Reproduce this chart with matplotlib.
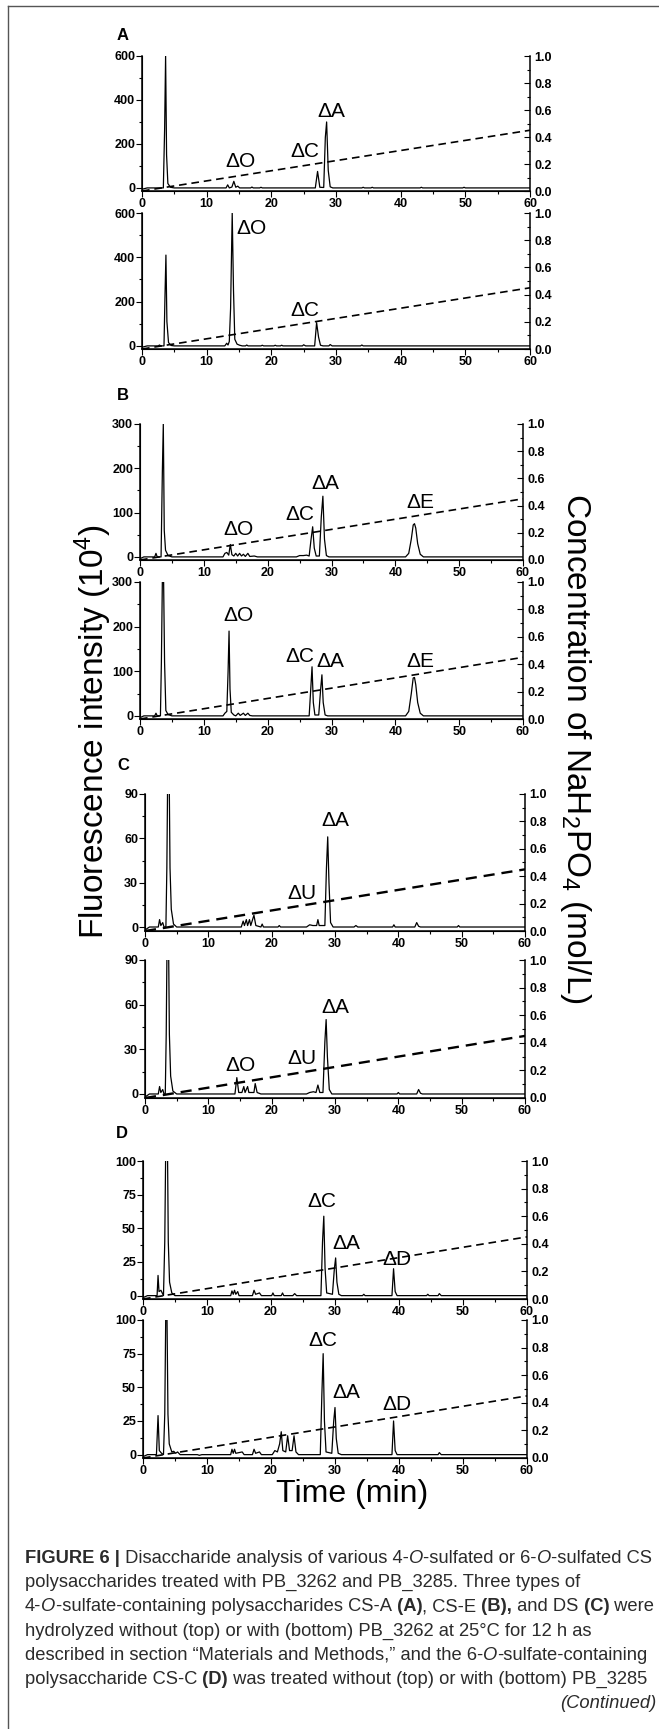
import matplotlib
matplotlib.use("Agg")
import matplotlib.pyplot as plt
import numpy as np
from matplotlib.ticker import MultipleLocator, FormatStrFormatter
from matplotlib.lines import Line2D

plt.rcParams["font.family"] = ["Liberation Sans", "DejaVu Sans"]
plt.rcParams["font.weight"] = "bold"
plt.rcParams["mathtext.default"] = "regular"
plt.rcParams["lines.scale_dashes"] = False

# ── Chromatogram traces: (time min, fluorescence) vertices ──
a_top = [(0, -6), (0.8, 0), (3.3, 0), (3.5, 270), (3.65, 600), (3.8, 150), (4.0, 20), (4.4, 3), (5, 0),
         (13.0, 0), (13.25, 14), (13.5, 0), (13.9, 4), (14.2, 30), (14.5, 3), (14.8, 8), (15.1, 0),
         (16.8, 0), (17.0, 4), (17.2, 0), (18.2, 0), (18.4, 3), (18.6, 0),
         (26.8, 0), (27.15, 75), (27.5, 3), (28.1, 2), (28.35, 230), (28.55, 300), (28.8, 80), (29.1, 5), (29.5, 0),
         (34.0, 0), (34.2, 3), (34.4, 0), (35.4, 0), (35.6, 3), (35.8, 0),
         (43.0, 0), (43.2, 3), (43.4, 0), (49.6, 0), (49.8, 3), (50.0, 0), (60, 0)]
a_bot = [(0, -6), (0.8, 0), (2.5, 0), (2.7, 4), (2.9, 0), (3.4, 0), (3.55, 220), (3.7, 410), (3.85, 110),
         (4.1, 15), (4.5, 2), (5, 0),
         (12.8, 0), (13.1, 12), (13.3, 4), (13.5, 20), (13.7, 170), (13.95, 600), (14.15, 250), (14.35, 30),
         (14.7, 8), (15.1, 3), (15.5, 0),
         (16.0, 0), (16.2, 4), (16.4, 0), (18.4, 0), (18.6, 3), (18.8, 0), (20.4, 0), (20.6, 3), (20.8, 0),
         (21.4, 0), (21.6, 3), (21.8, 0),
         (24.8, 0), (25.0, 5), (25.3, 0), (26.7, 0), (27.0, 105), (27.3, 40), (27.6, 3), (28.0, 0),
         (28.9, 0), (29.1, 6), (29.4, 0), (33.8, 0), (34.0, 4), (34.2, 0), (60, 0)]
b_top = [(0, -4), (0.6, 0), (2.3, 0), (2.5, 8), (2.7, 0), (3.3, 0), (3.5, 190), (3.65, 300), (3.8, 60),
         (4.0, 15), (4.4, 3), (5, 0),
         (13.0, 0), (13.3, 8), (13.6, 10), (13.9, 4), (14.15, 28), (14.4, 5), (14.7, 2), (15.0, 8), (15.3, 2),
         (15.6, 8), (15.9, 2), (16.2, 6), (16.5, 1), (16.9, 8), (17.2, 1), (17.9, 2), (18.4, 0),
         (24.5, 0), (25.0, 3), (25.6, 3), (26.1, 4), (26.5, 2), (26.8, 40), (27.05, 68), (27.3, 20), (27.6, 2),
         (28.1, 2), (28.4, 90), (28.65, 137), (28.9, 40), (29.2, 3), (29.6, 0),
         (41.6, 0), (42.1, 8), (42.5, 40), (42.8, 72), (43.0, 75), (43.2, 65), (43.5, 30), (43.9, 6),
         (44.4, 0), (60, 0)]
b_bot = [(0, -4), (0.6, 0), (2.3, 0), (2.5, 6), (2.7, 0), (3.2, 0), (3.35, 120), (3.6, 420), (3.85, 120),
         (4.05, 12), (4.4, 3), (5, 0),
         (13.0, 0), (13.3, 6), (13.6, 10), (13.8, 100), (13.95, 190), (14.1, 60), (14.3, 8), (14.7, 2),
         (15.0, 0), (15.4, 6), (15.7, 1), (16.2, 6), (16.5, 1), (16.9, 6), (17.2, 1), (17.6, 0),
         (26.5, 0), (26.75, 60), (26.95, 110), (27.15, 30), (27.4, 2), (28.0, 2), (28.3, 60), (28.5, 92),
         (28.7, 30), (29.0, 2), (29.4, 0),
         (41.6, 0), (42.1, 10), (42.5, 50), (42.8, 85), (43.0, 86), (43.2, 70), (43.5, 30), (43.9, 6),
         (44.4, 0), (60, 0)]
c_top = [(0, -2), (0.7, 0), (2.1, 0), (2.3, 5), (2.5, 1), (2.8, 3), (3.0, 0), (3.3, 0), (3.45, 40),
         (3.7, 160), (3.95, 40), (4.15, 12), (4.5, 2), (5.0, 0),
         (15.2, 0), (15.5, 4), (15.7, 1), (16.0, 5), (16.2, 1), (16.5, 5), (16.7, 1), (17.2, 8), (17.5, 1),
         (18.3, 0), (18.5, 2), (18.7, 0), (21.0, 0), (21.2, 1), (21.4, 0),
         (25.5, 0), (26.0, 1.5), (26.5, 1), (27.1, 1), (27.3, 5), (27.5, 1), (28.4, 1), (28.65, 40),
         (28.85, 61), (29.05, 30), (29.3, 3), (29.7, 0),
         (33.0, 0), (33.3, 1), (33.6, 0), (39.1, 0), (39.3, 1.5), (39.5, 0), (42.6, 0), (42.9, 3),
         (43.2, 0.5), (43.5, 0), (49.3, 0), (49.5, 1), (49.7, 0), (60, 0)]
c_bot = [(0, -2), (0.7, 0), (2.1, 0), (2.3, 5), (2.5, 1), (2.8, 3), (3.0, 0), (3.2, 0), (3.35, 40),
         (3.6, 160), (3.85, 40), (4.05, 12), (4.4, 2), (5.0, 0),
         (14.2, 0), (14.5, 11), (14.8, 1), (15.3, 1), (15.6, 5), (15.8, 1), (16.2, 5), (16.4, 1), (17.2, 1),
         (17.4, 7), (17.7, 1), (18.3, 0),
         (25.5, 0), (26.0, 1), (26.6, 1.5), (27.0, 1), (27.3, 6), (27.6, 1), (28.1, 1), (28.4, 35),
         (28.6, 50), (28.8, 25), (29.1, 3), (29.5, 0),
         (39.8, 0), (40.0, 1), (40.2, 0), (42.9, 0), (43.2, 3), (43.5, 0.5), (43.8, 0), (60, 0)]
d_top = [(0, -1.5), (0.7, 0), (2.2, 0), (2.35, 15), (2.5, 3), (2.8, 4), (3.0, 2), (3.2, 0), (3.4, 40),
         (3.7, 180), (3.95, 40), (4.15, 10), (4.5, 2), (5, 0),
         (13.7, 0), (13.9, 3.5), (14.1, 1), (14.3, 4), (14.5, 1), (14.8, 3), (15.0, 0), (17.1, 0),
         (17.35, 4), (17.6, 1), (18.2, 2), (18.5, 0),
         (20.1, 0), (20.3, 2), (20.5, 0), (21.6, 0), (21.8, 2), (22.0, 0), (23.4, 0), (23.7, 1.5), (24.0, 0),
         (27.8, 0), (28.05, 40), (28.25, 59), (28.45, 20), (28.7, 2), (29.6, 1), (29.9, 20), (30.1, 28),
         (30.3, 10), (30.6, 1), (31.0, 0),
         (34.3, 0), (34.5, 1), (34.7, 0), (38.9, 0), (39.15, 20), (39.4, 3), (39.7, 0),
         (44.3, 0), (44.5, 1), (44.7, 0), (46.1, 0), (46.3, 1.5), (46.6, 0), (60, 0)]
d_bot = [(0, -1.5), (0.7, 0), (2.1, 0), (2.35, 29), (2.55, 3), (2.9, 1), (3.2, 0), (3.4, 30),
         (3.65, 150), (3.9, 30), (4.1, 8), (4.5, 2), (4.8, 2.5), (5.1, 1), (5.4, 2), (5.8, 0),
         (8.5, 0), (8.8, -0.5), (9.2, 0),
         (13.7, 0), (13.9, 4), (14.1, 1), (14.3, 4), (14.5, 1), (15.5, 2), (15.8, 0), (17.1, 0),
         (17.35, 4), (17.6, 1), (18.2, 2), (18.5, 0),
         (20.2, 0), (20.6, 3), (21.0, 2), (21.35, 8), (21.6, 17), (21.85, 3), (22.3, 2), (22.6, 14),
         (22.9, 3), (23.3, 3), (23.6, 14), (23.9, 2), (24.3, 0),
         (27.7, 0), (27.95, 45), (28.15, 75), (28.35, 25), (28.6, 2), (29.5, 1), (29.8, 25), (30.0, 35),
         (30.2, 12), (30.5, 1), (31.0, 0),
         (38.9, 0), (39.15, 25), (39.4, 3), (39.7, 0), (46.1, 0), (46.3, 1.5), (46.6, 0), (60, 0)]

# NaH2PO4 gradient (right axis)
grad_t = [0, 60]
grad_c = [0, 0.45]

# Peak labels: (text, time, intensity)
a_top_labels = [("ΔO", 15.2, 119), ("ΔC", 25.2, 165), ("ΔA", 29.2, 348)]
a_bot_labels = [("ΔO", 17.0, 532), ("ΔC", 25.2, 159)]
b_top_labels = [("ΔO", 15.4, 61), ("ΔC", 25.0, 95), ("ΔA", 29.1, 165), ("ΔE", 43.9, 122)]
b_bot_labels = [("ΔO", 15.4, 224), ("ΔC", 25.0, 134), ("ΔA", 29.8, 121), ("ΔE", 43.9, 121)]
c_top_labels = [("ΔA", 30.0, 72), ("ΔU", 24.8, 23)]
c_bot_labels = [("ΔO", 15.0, 19), ("ΔU", 24.8, 23.5), ("ΔA", 30.0, 58)]
d_top_labels = [("ΔC", 28.0, 70), ("ΔA", 31.8, 39), ("ΔD", 39.7, 27)]
d_bot_labels = [("ΔC", 28.1, 85), ("ΔA", 31.8, 46), ("ΔD", 39.7, 37)]

panel_letters = ["A", "B", "C", "D"]

# ── Figure ──
W, H = 659, 1729
fig = plt.figure(figsize=(W / 100, H / 100), dpi=100)


def px_rect(l, t, r, b):
    return [l / W, 1 - b / H, (r - l) / W, (b - t) / H]


def draw(trace, labels, rect, ylim, major, minor, dash_lw=1.2, dash=(5.5, 3.5)):
    ax = fig.add_axes(px_rect(*rect))
    t, y = np.array(trace).T
    ax.plot(t, y, color="k", lw=0.9)
    ax.set_xlim(0, 60)
    ax.set_ylim(*ylim)
    ax.xaxis.set_major_locator(MultipleLocator(10))
    ax.xaxis.set_minor_locator(MultipleLocator(5))
    ax.yaxis.set_major_locator(MultipleLocator(major))
    ax.yaxis.set_minor_locator(MultipleLocator(minor))
    ax.tick_params(which="both", direction="out", width=0.8, labelsize=9, pad=1)
    ax.tick_params(which="major", length=4)
    ax.tick_params(which="minor", length=2.2)
    for name in ["left", "bottom"]:
        ax.spines[name].set_linewidth(1.1)
    ax.spines["top"].set_visible(False)
    ax.spines["right"].set_visible(False)
    for s, tx, ty in labels:
        ax.text(tx, ty, s, fontsize=15, fontweight="normal", ha="center", va="center")

    ax2 = ax.twinx()
    ax2.plot(grad_t, grad_c, color="k", lw=dash_lw, dashes=dash)
    ax2.set_ylim(0, 1)
    ax2.yaxis.set_major_locator(MultipleLocator(0.2))
    ax2.yaxis.set_minor_locator(MultipleLocator(0.1))
    ax2.yaxis.set_major_formatter(FormatStrFormatter("%.1f"))
    ax2.tick_params(which="both", direction="in", width=0.8, labelsize=9, pad=3)
    ax2.tick_params(which="major", length=4)
    ax2.tick_params(which="minor", length=2.2)
    ax2.spines["right"].set_linewidth(1.1)
    ax2.spines["top"].set_visible(False)
    return ax


draw(a_top, a_top_labels, (142, 56, 530, 191), (-14, 600), 200, 100)
draw(a_bot, a_bot_labels, (142, 213, 530, 349), (-14, 600), 200, 100)
draw(b_top, b_top_labels, (140, 424, 523, 560), (-7, 300), 100, 50)
draw(b_bot, b_bot_labels, (140, 582, 523, 719), (-7, 300), 100, 50)
draw(c_top, c_top_labels, (145, 794, 525, 931), (-2.7, 90), 30, 15, dash_lw=1.7, dash=(8, 5))
draw(c_bot, c_bot_labels, (145, 960, 525, 1098), (-2.7, 90), 30, 15, dash_lw=1.7, dash=(8, 5))
draw(d_top, d_top_labels, (143, 1161, 527, 1299), (-2.5, 100), 25, 12.5)
draw(d_bot, d_bot_labels, (143, 1320, 527, 1458), (-2.5, 100), 25, 12.5)

# Panel letters
for letter, (lx, ly) in zip(panel_letters, [(123, 35), (123, 395), (123, 766), (122, 1133)]):
    fig.text(lx / W, 1 - ly / H, letter, fontsize=12, fontweight="bold", ha="center", va="center")

# Shared axis titles
fig.text(93 / W, 1 - 732 / H, r"Fluorescence intensity (10$^4$)", fontsize=24,
         fontweight="normal", rotation=90, ha="center", va="center")
fig.text(576 / W, 1 - 748 / H, r"Concentration of NaH$_2$PO$_4$ (mol/L)", fontsize=24,
         fontweight="normal", rotation=270, ha="center", va="center")
fig.text(352 / W, 1 - 1494 / H, "Time (min)", fontsize=23, fontweight="normal",
         ha="center", va="center")

# Frame
fig.add_artist(Line2D([8 / W, 8 / W], [0, 1 - 6 / H], color="#555555", lw=1.0))
fig.add_artist(Line2D([8 / W, 1], [1 - 6 / H, 1 - 6 / H], color="#555555", lw=1.0))

# Caption
renderer = fig.canvas.get_renderer()


def rich_line(x_px, y_px, parts, size=13.2):
    x = x_px
    for s, weight, style in parts:
        t = fig.text(x / W, 1 - y_px / H, s, fontsize=size, fontweight=weight,
                     fontstyle=style, color="#2b2b2b", ha="left", va="baseline")
        x += t.get_window_extent(renderer=renderer).width


N, B, I = ("normal", "normal"), ("bold", "normal"), ("normal", "italic")
caption = [
    [("FIGURE 6 |", *B), (" Disaccharide analysis of various 4-", *N), ("O", *I),
     ("-sulfated or 6-", *N), ("O", *I), ("-sulfated CS", *N)],
    [("polysaccharides treated with PB_3262 and PB_3285. Three types of", *N)],
    [("4-", *N), ("O", *I), ("-sulfate-containing polysaccharides CS-A", *N), (" (A)", *B),
     (", CS-E", *N), (" (B),", *B), (" and DS", *N), (" (C)", *B), (" were", *N)],
    [("hydrolyzed without (top) or with (bottom) PB_3262 at 25°C for 12 h as", *N)],
    [("described in section “Materials and Methods,” and the 6-", *N), ("O", *I),
     ("-sulfate-containing", *N)],
    [("polysaccharide CS-C", *N), (" (D)", *B),
     (" was treated without (top) or with (bottom) PB_3285", *N)],
]
for i, parts in enumerate(caption):
    rich_line(25, 1563 + 24.2 * i, parts)
fig.text(656 / W, 1 - (1563 + 24.2 * 6) / H, "(Continued)", fontsize=13.2, fontweight="normal",
         fontstyle="italic", color="#2b2b2b", ha="right", va="baseline")

fig.savefig("out.png", dpi=100)
